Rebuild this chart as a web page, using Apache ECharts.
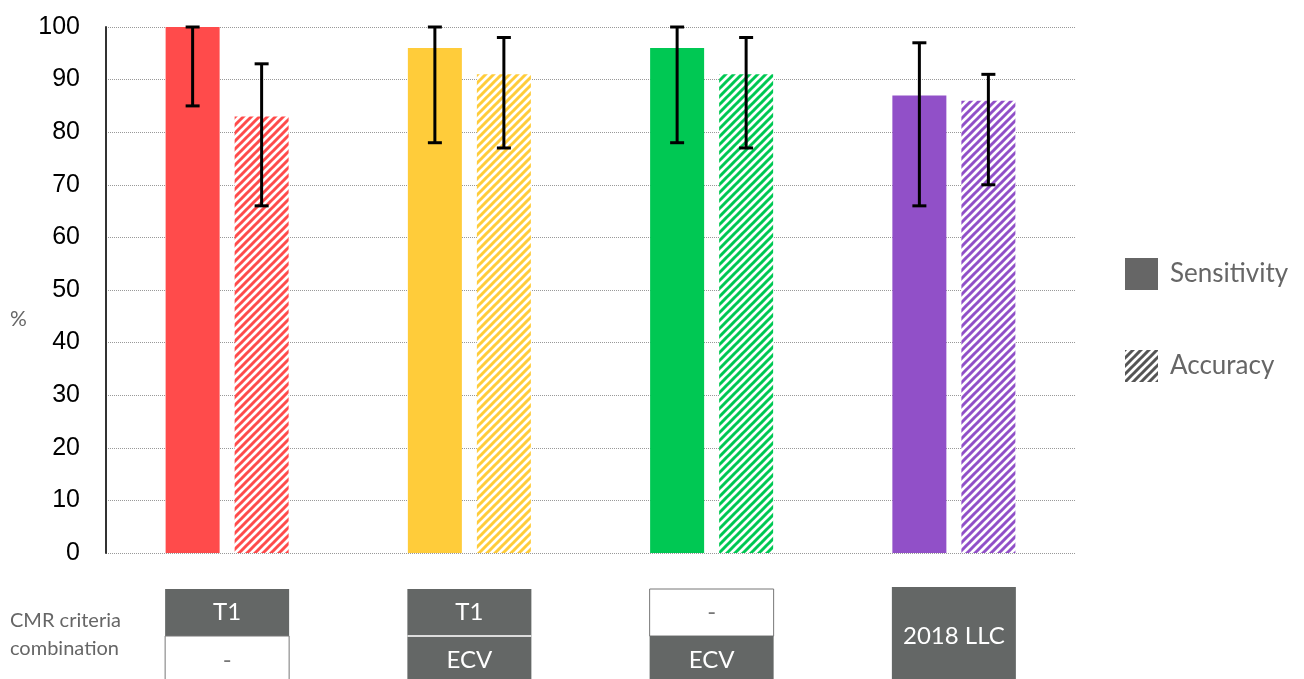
<!DOCTYPE html>
<html>
<head>
<meta charset="utf-8">
<script src="https://cdn.jsdelivr.net/npm/echarts@6/dist/echarts.min.js"></script>
<style>
  html, body { margin: 0; padding: 0; background: #fff; }
  #chart { width: 1304px; height: 679px; }
</style>
</head>
<body>
<div id="chart"></div>
<script>
// Groups of CMR criteria combinations
const categories = ['T1', 'T1 + ECV', 'ECV', '2018 LLC'];
const groupColors = ['#ff4b4b', '#ffcc3a', '#00c853', '#9150c8'];

// Sensitivity (%) with confidence interval
const sensitivity = [100, 96, 96, 87];
const sensitivityLow = [85, 78, 78, 66];
const sensitivityHigh = [100, 100, 100, 97];

// Accuracy (%) with confidence interval
const accuracy = [83, 91, 91, 86];
const accuracyLow = [66, 77, 77, 70];
const accuracyHigh = [93, 98, 98, 91];

// Criteria table cells under each group (null = merged with the top cell)
const criteriaTop = ['T1', 'T1', '-', '2018 LLC'];
const criteriaBottom = ['-', 'ECV', 'ECV', null];

const yTicks = [0, 10, 20, 30, 40, 50, 60, 70, 80, 90, 100];

function hatch(color) {
  const s = 8;
  const c = document.createElement('canvas');
  c.width = s; c.height = s;
  const ctx = c.getContext('2d');
  ctx.fillStyle = '#fff';
  ctx.fillRect(0, 0, s, s);
  ctx.strokeStyle = color;
  ctx.lineWidth = 3;
  ctx.lineCap = 'square';
  ctx.beginPath();
  ctx.moveTo(-1, 1); ctx.lineTo(1, -1);
  ctx.moveTo(0, s); ctx.lineTo(s, 0);
  ctx.moveTo(s - 1, s + 1); ctx.lineTo(s + 1, s - 1);
  ctx.stroke();
  return { image: c, repeat: 'repeat' };
}

const BAR_W = 54;
const BAR_GAP = 15;

function errorSeries(low, high, offset) {
  return {
    type: 'custom',
    silent: true,
    z: 5,
    data: categories.map((c, i) => [i, low[i], high[i]]),
    renderItem: function (params, api) {
      const lo = api.coord([api.value(0), api.value(1)]);
      const hi = api.coord([api.value(0), api.value(2)]);
      const x = lo[0] + offset;
      const cap = 7;
      const style = { stroke: '#000', lineWidth: 3 };
      return {
        type: 'group',
        children: [
          { type: 'line', shape: { x1: x, y1: hi[1], x2: x, y2: lo[1] }, style: style },
          { type: 'line', shape: { x1: x - cap, y1: hi[1], x2: x + cap, y2: hi[1] }, style: style },
          { type: 'line', shape: { x1: x - cap, y1: lo[1], x2: x + cap, y2: lo[1] }, style: style }
        ]
      };
    }
  };
}

const chart = echarts.init(document.getElementById('chart'), null, { renderer: 'canvas' });
const off = (BAR_W + BAR_GAP) / 2;

chart.setOption({
  animation: false,
  backgroundColor: '#fff',
  grid: { left: 106, right: 229, top: 27, bottom: 126, containLabel: false },
  legend: {
    orient: 'vertical',
    left: 1120,
    top: 253,
    itemWidth: 33,
    itemHeight: 32,
    itemGap: 60,
    selectedMode: false,
    textStyle: { fontFamily: 'Lato', fontSize: 26, color: '#666', padding: [0, 0, 0, 7] },
    data: [
      { name: 'Sensitivity', icon: 'rect', itemStyle: { color: '#666' } },
      { name: 'Accuracy', icon: 'rect', itemStyle: { color: hatch('#555') } }
    ]
  },
  xAxis: {
    type: 'category',
    data: categories,
    axisLine: { show: false },
    axisTick: { show: false },
    axisLabel: { show: false }
  },
  yAxis: {
    type: 'value',
    min: 0,
    max: 100,
    interval: 10,
    axisLine: { show: true, lineStyle: { color: '#333', width: 2 } },
    axisTick: { show: false },
    axisLabel: {
      margin: 26,
      fontFamily: 'Liberation Sans',
      fontSize: 25,
      color: '#000',
      formatter: v => (yTicks.indexOf(v) >= 0 ? String(v) : '')
    },
    splitLine: { show: true, lineStyle: { color: '#999', type: [1, 1], width: 1 } }
  },
  series: [
    {
      name: 'Sensitivity',
      type: 'bar',
      barWidth: BAR_W,
      barGap: (BAR_GAP / BAR_W * 100).toFixed(1) + '%',
      data: sensitivity.map((v, i) => ({ value: v, itemStyle: { color: groupColors[i] } }))
    },
    {
      name: 'Accuracy',
      type: 'bar',
      barWidth: BAR_W,
      data: accuracy.map((v, i) => ({ value: v, itemStyle: { color: hatch(groupColors[i]) } }))
    },
    errorSeries(sensitivityLow, sensitivityHigh, -off),
    errorSeries(accuracyLow, accuracyHigh, off)
  ]
});

// Criteria table and side labels
const DARK = '#646766';
const BOX_W = 124;
const TOP_Y = 589;
const MID_Y = 636;
const BOT_Y = 690;
const cellFont = { fontFamily: 'Lato', fontSize: 24 };
const elements = [];

categories.forEach((c, i) => {
  const cx = chart.convertToPixel({ xAxisIndex: 0 }, i);
  const x0 = cx - BOX_W / 2;
  const top = criteriaTop[i];
  const bottom = criteriaBottom[i];
  if (bottom === null) {
    elements.push({ type: 'rect', shape: { x: x0, y: TOP_Y - 2, width: BOX_W, height: BOT_Y - TOP_Y + 2 }, style: { fill: DARK } });
    elements.push({ type: 'text', x: cx, y: MID_Y, style: Object.assign({ text: top, fill: '#fff', align: 'center', verticalAlign: 'middle' }, cellFont) });
    return;
  }
  [[top, TOP_Y, MID_Y], [bottom, MID_Y, BOT_Y]].forEach(([txt, y1, y2]) => {
    const filled = txt !== '-';
    elements.push({
      type: 'rect',
      shape: { x: x0, y: y1, width: BOX_W, height: y2 - y1 },
      style: filled ? { fill: DARK } : { fill: '#fff', stroke: '#777', lineWidth: 1 }
    });
    elements.push({
      type: 'text', x: cx, y: (y1 + Math.min(y2, 680)) / 2 + (y2 > 680 ? 2 : 0),
      style: Object.assign({ text: txt, fill: filled ? '#fff' : '#777', align: 'center', verticalAlign: 'middle' }, cellFont)
    });
  });
  if (top !== '-' && bottom !== '-') {
    elements.push({ type: 'line', shape: { x1: x0, y1: MID_Y, x2: x0 + BOX_W, y2: MID_Y }, style: { stroke: '#ddd', lineWidth: 2 } });
  }
});

elements.push({ type: 'text', left: 10, top: 607, style: { text: 'CMR criteria\ncombination', fill: '#666', fontFamily: 'Lato', fontSize: 20, lineHeight: 28 } });
elements.push({ type: 'text', left: 10, top: 309, style: { text: '%', fill: '#666', fontFamily: 'Lato', fontSize: 21 } });

chart.setOption({ graphic: { elements: elements } });
</script>
</body>
</html>
